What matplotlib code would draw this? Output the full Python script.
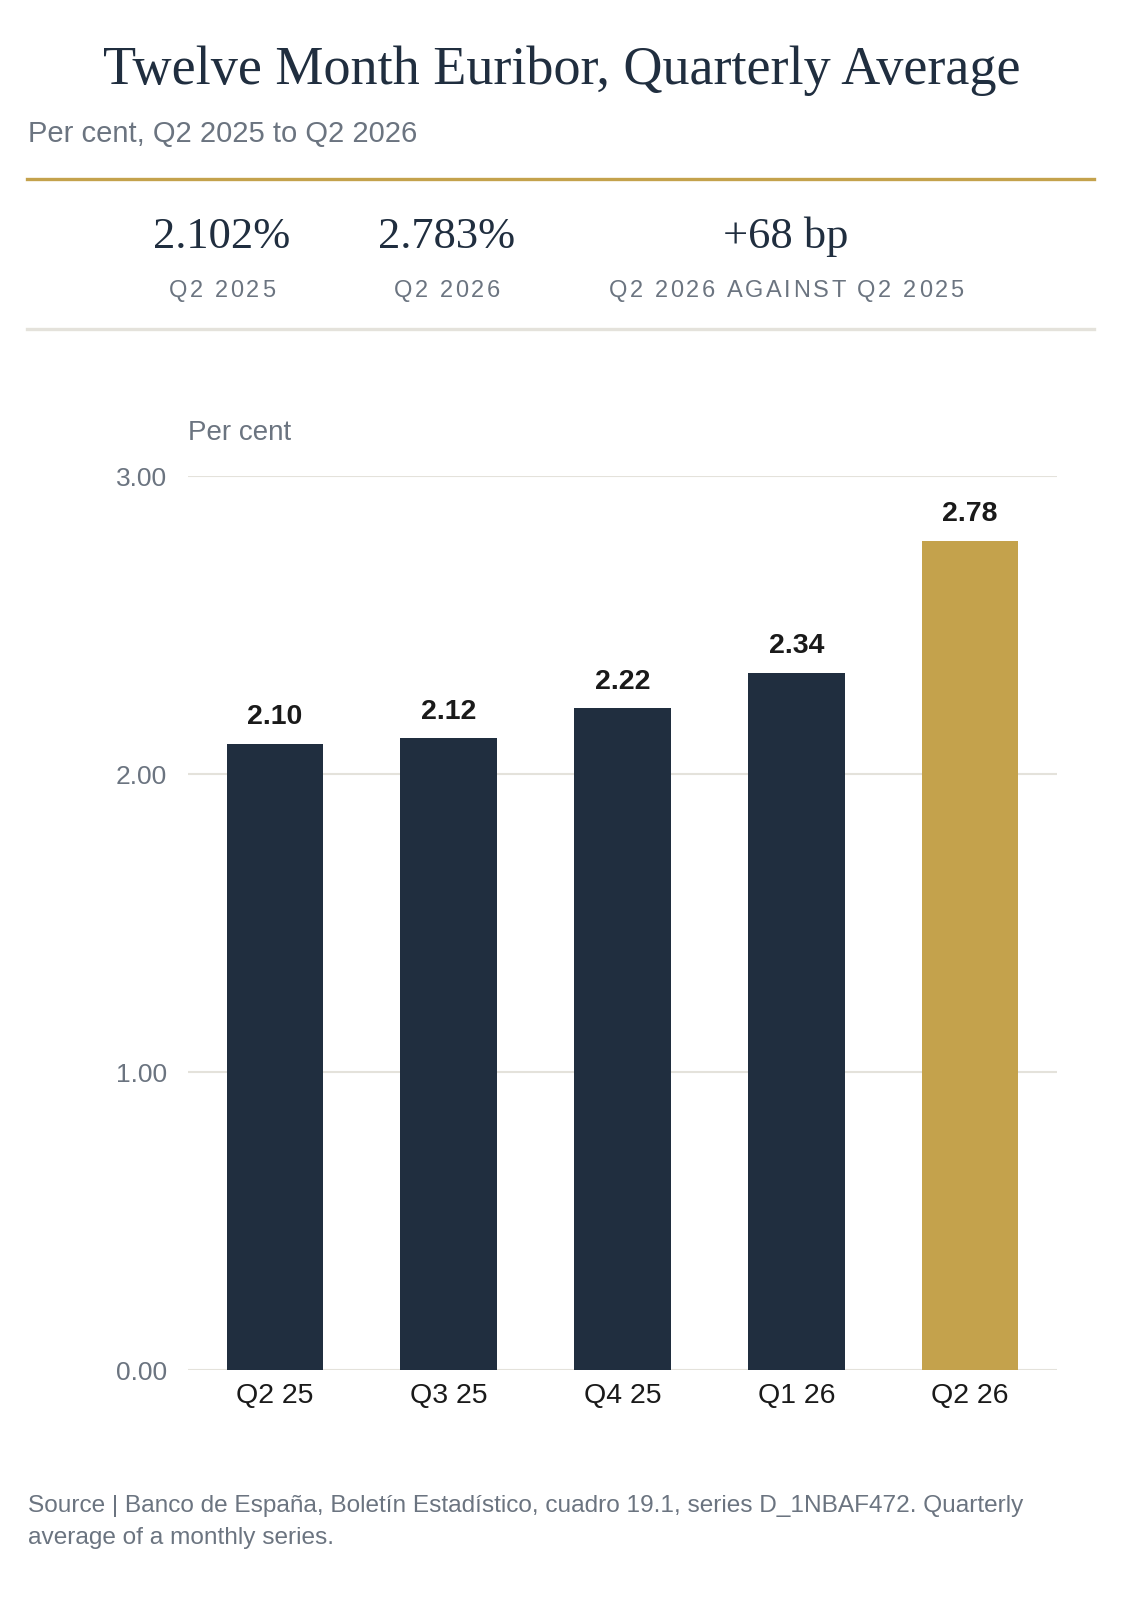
import matplotlib.pyplot as plt

# data
quarters = ["Q2 25", "Q3 25", "Q4 25", "Q1 26", "Q2 26"]
euribor = [2.102, 2.12, 2.22, 2.34, 2.783]
yticks = [0.0, 1.0, 2.0, 3.0]
kpi_values = ["2.102%", "2.783%", "+68 bp"]
kpi_labels = ["Q2 2025", "Q2 2026", "Q2 2026 AGAINST Q2 2025"]

navy = "#202e3f"
gold = "#c4a24c"
grey = "#6b7480"
grid = "#e4e2db"

fig = plt.figure(figsize=(11.45, 16), dpi=100)
W, H = 1145, 1600


def fx(px):
    return px / W


def fy(py):
    return 1 - py / H


serif = ["Liberation Serif", "DejaVu Serif"]
sans = ["Liberation Sans", "DejaVu Sans"]
renderer = fig.canvas.get_renderer()


def tracked_text(cx, base, s, spacing, **kw):
    # letter-spaced text centred on cx (pixels)
    widths = []
    for ch in s:
        t = fig.text(0, 0, ch if ch != " " else "a a", **kw)
        w = t.get_window_extent(renderer).width
        if ch == " ":
            t2 = fig.text(0, 0, "aa", **kw)
            w = w - t2.get_window_extent(renderer).width
            t2.remove()
        t.remove()
        widths.append(w)
    total = sum(widths) + spacing * (len(s) - 1)
    x = cx - total / 2
    for ch, w in zip(s, widths):
        if ch != " ":
            fig.text(fx(x), fy(base), ch, ha="left", va="baseline", **kw)
        x += w + spacing


# header
fig.text(fx(562), fy(84), "Twelve Month Euribor, Quarterly Average", family=serif,
         fontsize=39, color=navy, ha="center", va="baseline")
fig.text(fx(28), fy(142), "Per cent, Q2 2025 to Q2 2026", family=sans,
         fontsize=21, color=grey, ha="left", va="baseline")
fig.add_artist(plt.Line2D([fx(27), fx(1094)], [fy(179), fy(179)], color=gold, lw=2.4))
fig.add_artist(plt.Line2D([fx(27), fx(1094)], [fy(329), fy(329)], color=grid, lw=2.4))

# KPI row
kpi_x = [222, 447, 786]
for x, val, lab in zip(kpi_x, kpi_values, kpi_labels):
    fig.text(fx(x), fy(248), val, family=serif, fontsize=32, color=navy,
             ha="center", va="baseline")
    tracked_text(x, 297, lab, 2.6, family=sans, fontsize=17, color=grey)

# bar chart
ax = fig.add_axes([fx(188), fy(1370), fx(1057 - 188), (1370 - 476) / H])
colors = [navy] * (len(quarters) - 1) + [gold]
x = range(len(quarters))
bars = ax.bar(x, euribor, width=0.555, color=colors, zorder=3)
for b, v in zip(bars, euribor):
    ax.text(b.get_x() + b.get_width() / 2, v + 0.045, f"{v:.2f}", family=sans,
            fontsize=20.5, fontweight="bold", color="#1a1a1a", ha="center",
            va="bottom", clip_on=False)

ax.set_xlim(-0.5, len(quarters) - 0.5)
ax.set_ylim(0, 3.0)
ax.set_yticks(yticks)
ax.set_yticklabels([f"{t:.2f}" for t in yticks], family=sans, fontsize=19, color=grey)
ax.set_xticks(list(x))
ax.set_xticklabels(quarters, family=sans, fontsize=20.5, color="#1a1a1a")
ax.tick_params(axis="both", length=0)
ax.tick_params(axis="y", pad=15)
ax.tick_params(axis="x", pad=9)
ax.grid(axis="y", color=grid, lw=1.5, zorder=0)
for s in ax.spines.values():
    s.set_visible(False)

fig.text(fx(188), fy(440), "Per cent", family=sans, fontsize=20, color=grey,
         ha="left", va="baseline")

# footer
fig.text(fx(28), fy(1512), "Source | Banco de España, Boletín Estadístico, cuadro 19.1, series D_1NBAF472. Quarterly",
         family=sans, fontsize=17.6, color=grey, ha="left", va="baseline")
fig.text(fx(28), fy(1544), "average of a monthly series.", family=sans, fontsize=17.6,
         color=grey, ha="left", va="baseline")

fig.savefig("out.png", dpi=100, facecolor="white")
